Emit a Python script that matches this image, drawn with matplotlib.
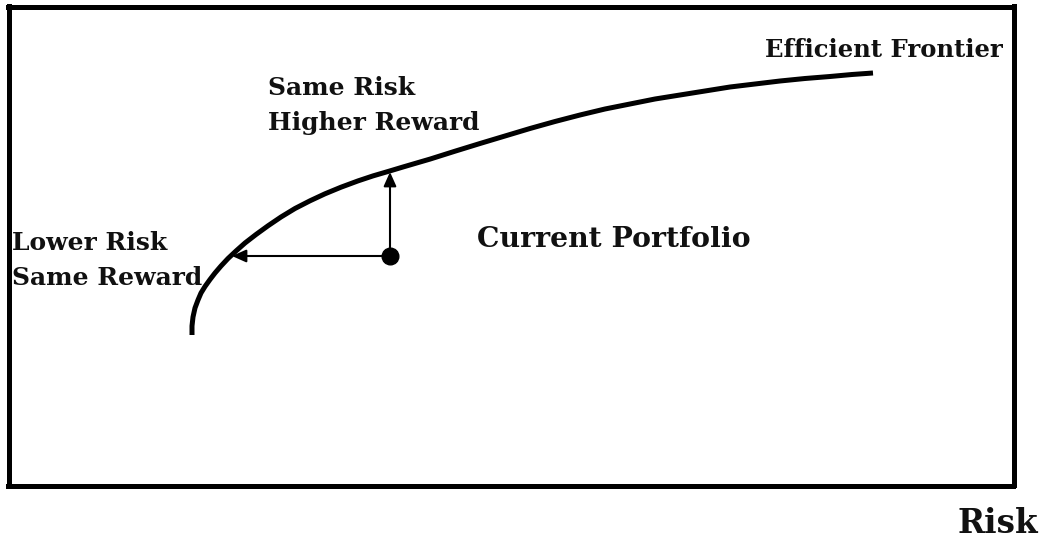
#Efficient frontier sketch

import numpy as np
import matplotlib.pyplot as plt

#frontier curve (pixel-like units, y grows down)
risk=[192,192,193,195,198,201,205,210,215,221,228,236,245,256,268,281,295,310,325,341,358,373,388,
      403,418,430,455,480,505,530,555,580,605,630,655,680,705,730,755,780,805,830,852,873]
reward=[335,326,317,308,300,293,286.5,279.5,273,266,258.5,251,243,234.5,225.8,217,208.5,200.8,193.8,187.2,180.9,175.9,171.5,
        167,162.6,159.1,151.2,143.5,136,128.5,121.5,115,109,104,99,95,91,87,84,81,78.5,76.5,74.5,73]

portfolio=(390,256)   #current portfolio
left_tip=(232,256)    #lower risk, same reward
up_tip=(390,172)      #same risk, higher reward

plt.rcParams['font.family']=['DejaVu Serif']

fig=plt.figure(figsize=(10.43,5.39),dpi=100)
ax=fig.add_axes([8.5/1043,1-485.5/539,1005/1043,479/539])
ax.set_xlim(8.5,1013.5)
ax.set_ylim(485.5,6.5)
ax.set_xticks([])
ax.set_yticks([])
for s in ax.spines.values():
    s.set_linewidth(3.6)

ax.plot(risk,reward,'k-',lw=3.6,solid_capstyle='butt',solid_joinstyle='round')  #frontier

arr=dict(arrowstyle='-|>,head_length=0.85,head_width=0.38',color='k',lw=1.5,shrinkA=0,shrinkB=0)
ax.annotate('',xy=left_tip,xytext=portfolio,arrowprops=arr)
ax.annotate('',xy=up_tip,xytext=portfolio,arrowprops=arr)
ax.plot(*portfolio,'ko',ms=12)

kw=dict(fontweight='bold',color='#111111',va='baseline',clip_on=False)
ax.text(765,57,'Efficient Frontier',fontsize=17.5,**kw)
ax.text(268,130,'Same Risk\nHigher Reward',fontsize=18,linespacing=1.6,**kw)
ax.text(12,285,'Lower Risk\nSame Reward',fontsize=18,linespacing=1.6,**kw)
ax.text(477,247,'Current Portfolio',fontsize=20.3,**kw)
ax.text(958,533,'Risk',fontsize=23.5,**kw)

plt.savefig('out.png',dpi=100)
